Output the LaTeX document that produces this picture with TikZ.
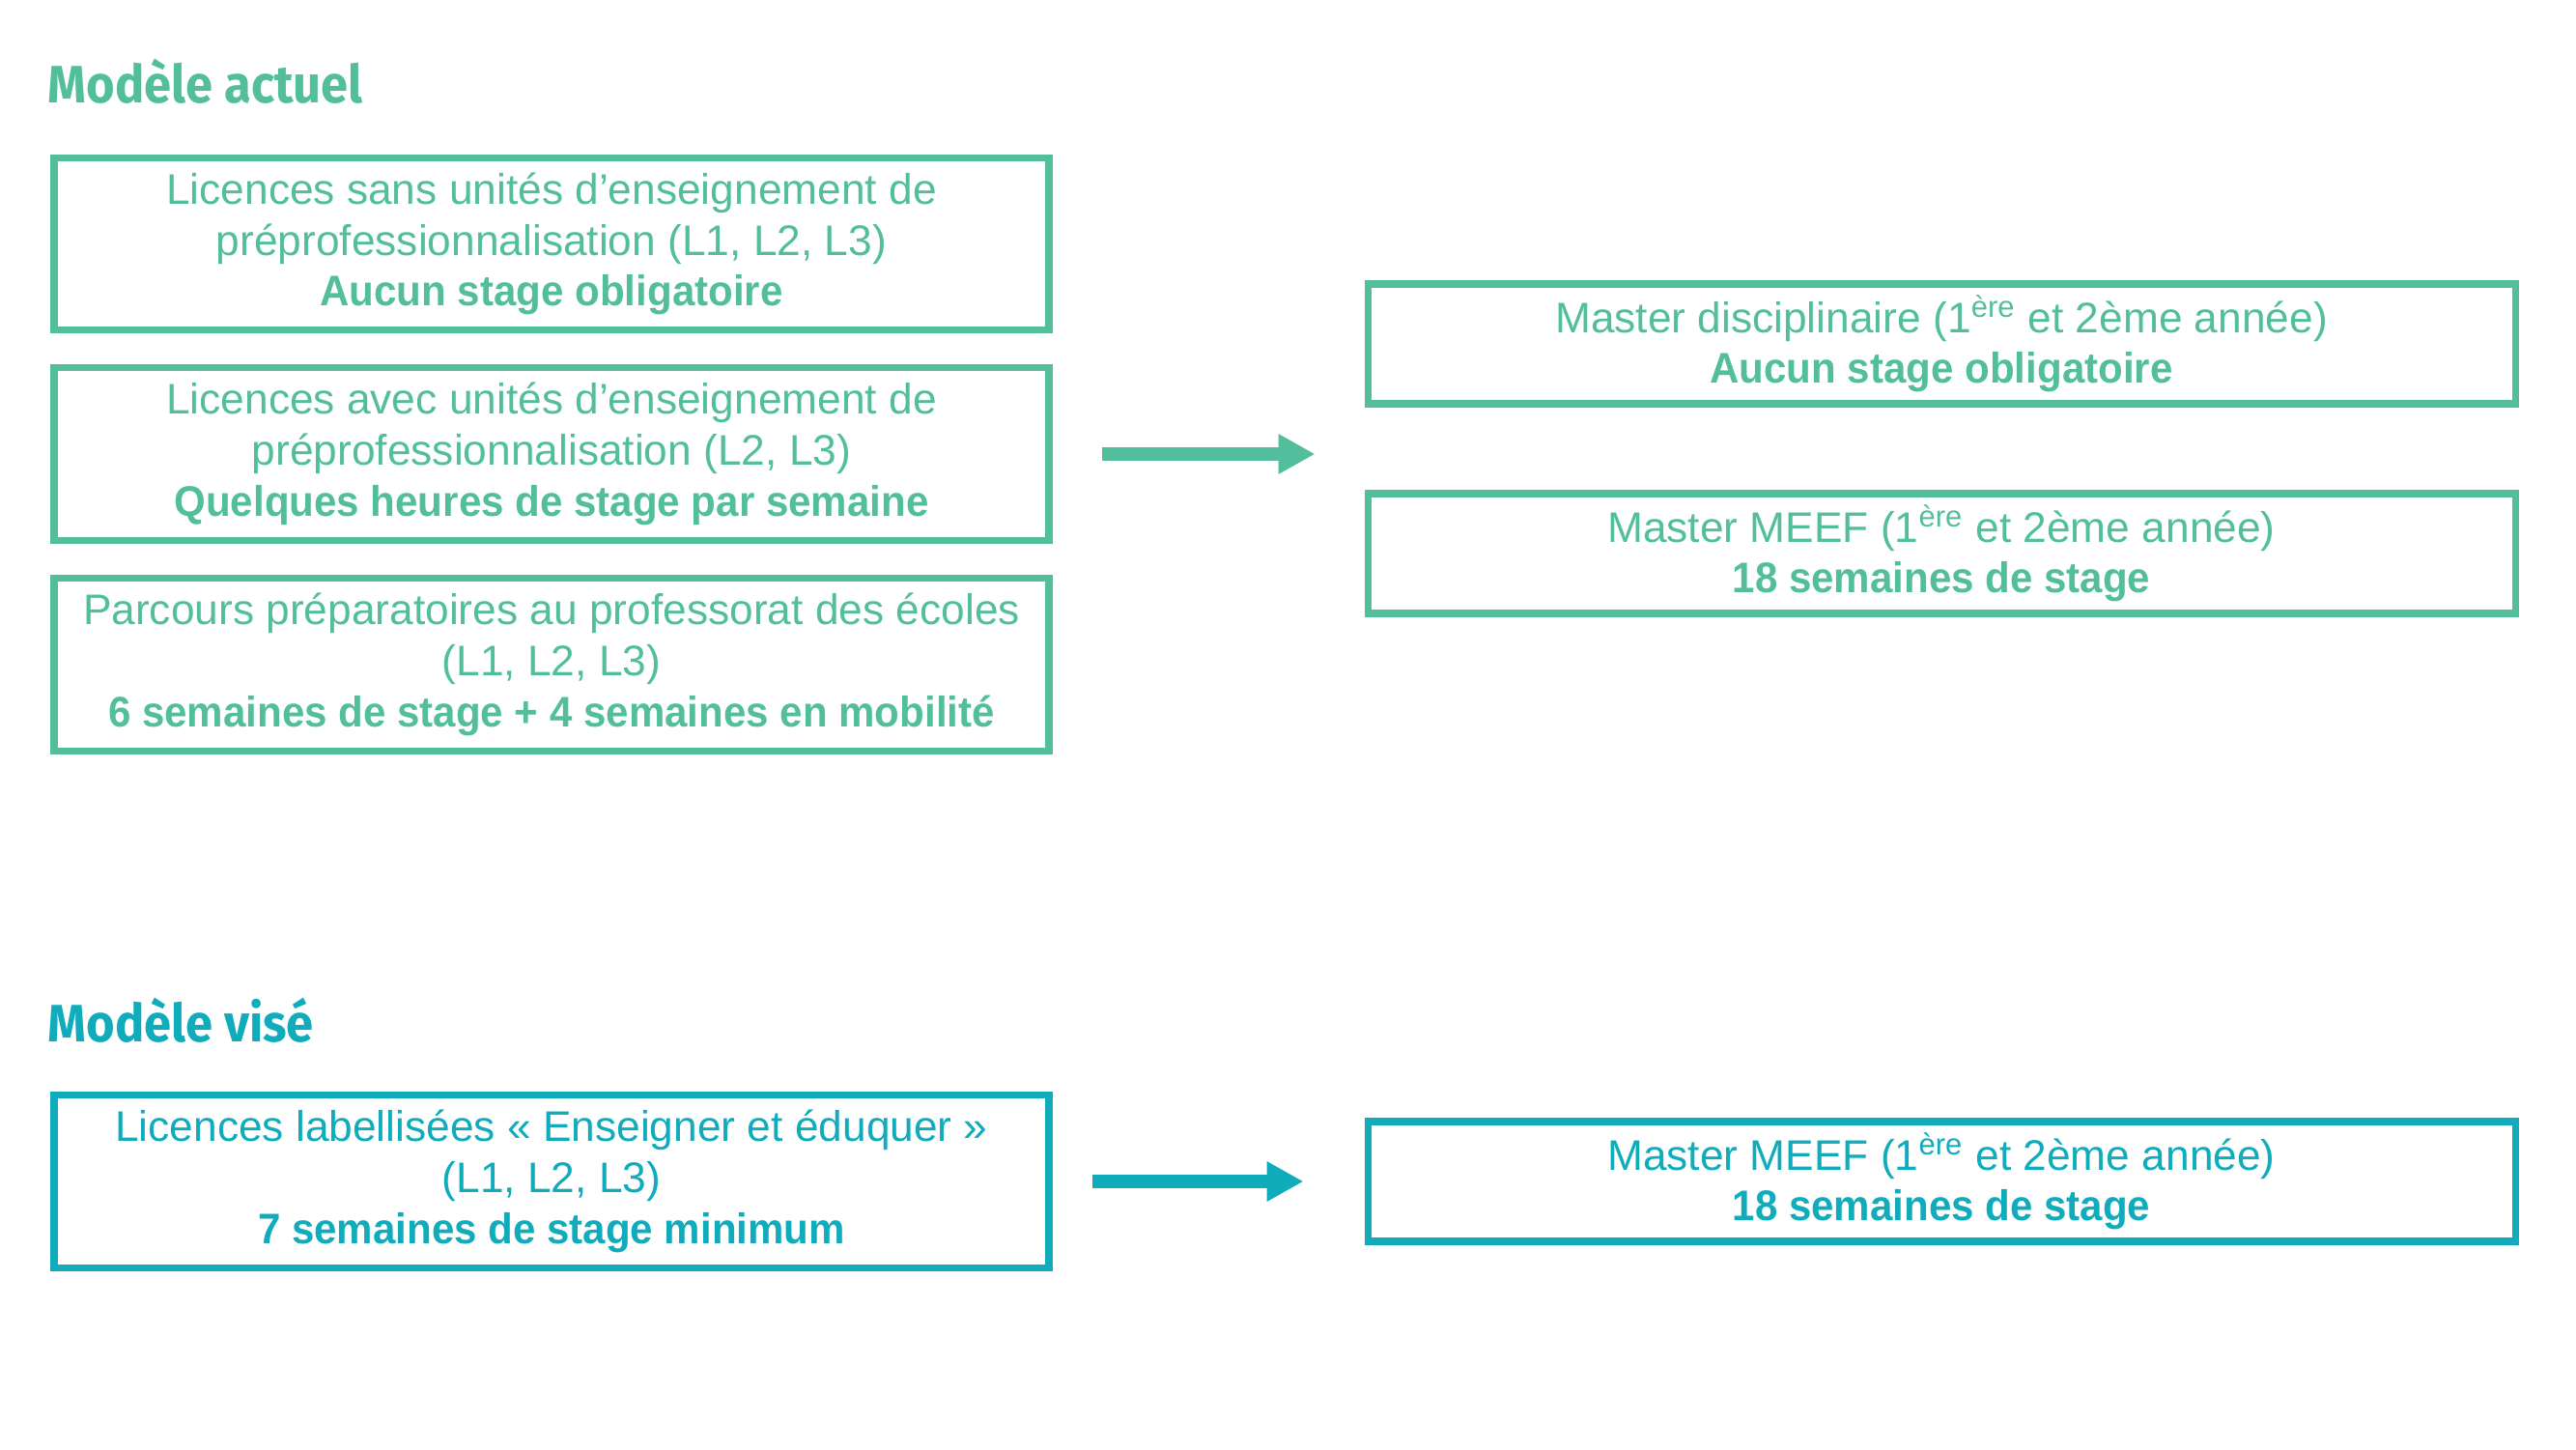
\documentclass[tikz,border=0pt]{standalone}
\usepackage{fontspec}
\setmainfont{Liberation Sans}[BoldFeatures={FakeStretch=0.95}]
\newfontfamily\headfont{Fira Sans}[FakeStretch=0.93]
\usetikzlibrary{arrows.meta}

\definecolor{actuel}{RGB}{82,190,155}
\definecolor{vise}{RGB}{16,172,188}

\tikzset{
  box/.style={draw, line width=2pt, align=center, inner sep=0pt,
    font=\fontsize{12.6}{15}\selectfont},
  licbox/.style={box, minimum width=10.30cm, minimum height=1.785cm},
  masbox/.style={box, minimum width=11.88cm, minimum height=1.24cm},
  titre/.style={anchor=west, inner sep=0pt, font=\headfont\bfseries\fontsize{15.5}{18}\selectfont},
  fleche/.style={line width=4pt, -{Triangle[length=0.38cm,width=0.39cm]}},
}

\begin{document}
\begin{tikzpicture}
    \useasboundingbox (0,0) rectangle (26.67,15);

    % modele actuel
    \node[titre, actuel] (tactuel) at (0.49,14.16) {Modèle actuel};

    \node[licbox, actuel] (lic1) at (5.71,12.475) {Licences sans unités d’enseignement de\\préprofessionnalisation (L1, L2, L3)\\\textbf{Aucun stage obligatoire}};
    \node[licbox, actuel] (lic2) at (5.71,10.30) {Licences avec unités d’enseignement de\\préprofessionnalisation (L2, L3)\\\textbf{Quelques heures de stage par semaine}};
    \node[licbox, actuel] (lic3) at (5.71,8.12) {Parcours préparatoires au professorat des écoles\\(L1, L2, L3)\\\textbf{6 semaines de stage + 4 semaines en mobilité}};

    \node[masbox, actuel] (mas1) at (20.10,11.44) {Master disciplinaire (1\textsuperscript{ère} et 2ème année)\\\textbf{Aucun stage obligatoire}};
    \node[masbox, actuel] (mas2) at (20.10,9.27) {Master MEEF (1\textsuperscript{ère} et 2ème année)\\\textbf{18 semaines de stage}};

    \draw[fleche, actuel, shorten <= 0.51cm, shorten >= 0.51cm] (lic2.east) -- (lic2.east -| mas1.west);

    % modele vise
    \node[titre, vise] (tvise) at (0.49,4.44) {Modèle visé};

    \node[licbox, vise] (lic4) at (5.71,2.77) {Licences labellisées « Enseigner et éduquer »\\(L1, L2, L3)\\\textbf{7 semaines de stage minimum}};
    \node[masbox, vise] (mas3) at (20.10,2.77) {Master MEEF (1\textsuperscript{ère} et 2ème année)\\\textbf{18 semaines de stage}};

    \draw[fleche, vise, shorten <= 0.41cm, shorten >= 0.63cm] (lic4.east) -- (mas3.west);
\end{tikzpicture}
\end{document}
